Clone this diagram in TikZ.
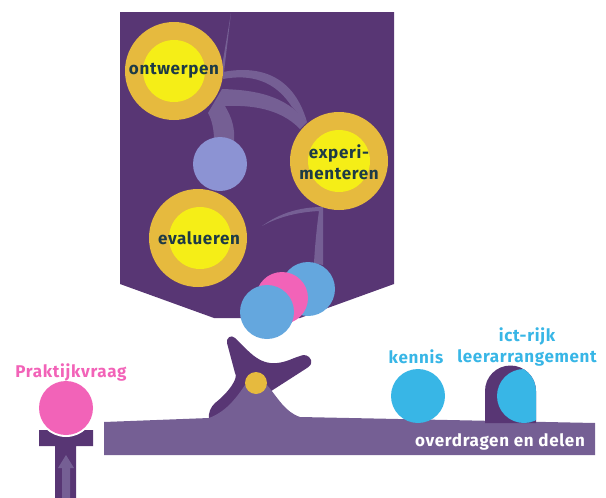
\documentclass[tikz,border=0pt]{standalone}
\usepackage{fontspec}
\setmainfont[LetterSpace=4]{Fira Sans}
\usepackage{xcolor}
\usepackage{tikz}
\usetikzlibrary{positioning, calc}
\definecolor{paars}{HTML}{583674}
\definecolor{lichtpaars}{HTML}{755F94}
\definecolor{goud}{HTML}{E6BA3E}
\definecolor{geel}{HTML}{F5EE17}
\definecolor{inkt}{HTML}{1D3A46}
\definecolor{roze}{HTML}{F263B8}
\definecolor{cyaan}{HTML}{38B6E6}
\definecolor{hemel}{HTML}{64A7DE}
\definecolor{lavendel}{HTML}{8C93D3}

\begin{document}
\begin{tikzpicture}[x=1pt,y=-1pt,
	bol/.style={circle,inner sep=0,minimum size=#1},
	ring/.style={bol=98,fill=goud},
	kern/.style={bol=62,fill=geel},
	woord/.style={font=\fontsize{17}{21}\selectfont\bfseries,text=inkt,align=center,inner sep=0},
	kop/.style={font=\fontsize{17}{21}\selectfont\bfseries,align=center,inner sep=0}]
			\useasboundingbox (0,0) rectangle (606,498);
			% banner with the cycle
			\fill[paars] (120,12) -- (394,12) -- (394,284) -- (300,318) -- (214,318) -- (120,284) -- cycle;
			% bands between the circles
			\fill[lichtpaars] (231,13) -- (224,72) -- (221,72) -- cycle;
			\fill[lichtpaars] (223,72) .. controls (265,64) and (295,80) .. (307,122) -- (292,107) .. controls (275,80) and (250,74) .. (223,79) -- cycle;
			\fill[lichtpaars] (222,89) .. controls (255,90) and (285,95) .. (307,122) -- (300,129) .. controls (280,108) and (250,105) .. (225,106) .. controls (232,118) and (235,128) .. (234,141) -- (214,140) .. controls (214,130) and (212,120) .. (208,113) -- cycle;
			\fill[lichtpaars] (262,226) .. controls (280,213) and (300,207) .. (323,207) -- (323,265) -- (314,263) .. controls (315,245) and (317,225) .. (319,211) .. controls (300,212) and (280,216) .. (262,226) -- cycle;
			% circles of the cycle
			\node[ring] (ontwerpen) at (174,71) {};
			\node[kern] (ontwerpenkern) at (ontwerpen) {};
			\node[woord] (ontwerpentekst) at (ontwerpen) {ontwerpen};
			\node[ring] (experimenteren) at (339,161) {};
			\node[kern] (experimenterenkern) at (experimenteren) {};
			\node[woord] (experimenterentekst) at (339,162) {experi-\\menteren};
			\node[ring] (evalueren) at (198,238) {};
			\node[kern] (evaluerenkern) at (200,238) {};
			\node[woord] (evaluerentekst) at (199,238) {evalueren};
			\node[bol=54,fill=lavendel] (midden) at (220,164) {};
			% falling circles
			\node[bol=54,fill=hemel] (bolachter) at (308,289) {};
			\node[bol=52,fill=roze] (bolroze) at (282,298) {};
			\node[bol=54,fill=hemel] (bolvoor) at (267,312) {};
			% tool on the platform
			\fill[paars] (209,420) .. controls (208,412) and (211,407) .. (215,403) .. controls (228,393) and (239,378) .. (235,373) -- (227,343) .. controls (226,338) and (231,334) .. (235,338) .. controls (248,350) and (258,365) .. (277,363) .. controls (287,362) and (293,358) .. (300,356) .. controls (304,354) and (309,355) .. (311,360) .. controls (312,364) and (310,366) .. (307,368) -- (265,395) -- (240,420) -- cycle;
			\fill[lichtpaars] (104,422) -- (209,418) .. controls (225,412) and (235,400) .. (245,385) -- (267,385) .. controls (278,398) and (285,412) .. (300,417) -- (595,423) -- (595,455) -- (104,455) -- cycle;
			\node[bol=22,fill=goud] (knop) at (256,383) {};
			\node[font=\fontsize{17}{21}\selectfont\bfseries,text=white,inner sep=0] (delen) at (500,442) {overdragen en delen};
			% question on the left
			\fill[paars] (39,430) -- (93,430) -- (93,446) -- (76,446) -- (76,498) -- (55,498) -- (55,446) -- (39,446) -- cycle;
			\node[bol=58,fill=white] (rozerand) at (66,408) {};
			\node[bol=54,fill=roze] (vraag) at (66,408) {};
			\fill[lichtpaars] (66,455) -- (74,468) -- (70,468) -- (70,498) -- (62,498) -- (62,468) -- (58,468) -- cycle;
			\node[kop,text=roze] (vraagtekst) at (71,372) {Praktijkvraag};
			% knowledge and arrangement
			\node[bol=54,fill=cyaan] (kennis) at (418,396) {};
			\node[kop,text=cyaan,above=5pt of kennis,xshift=-2pt] (kennistekst) {kennis};
			\fill[paars] (485,423) -- (485,391) arc[start angle=180,end angle=360,radius=25.5] -- (536,423) -- cycle;
			\begin{scope}
			\clip (485,423) -- (485,391) arc[start angle=180,end angle=360,radius=25.5] -- (536,423) -- cycle;
			\node[bol=54,fill=cyaan] (arrangement) at (524,396) {};
			\end{scope}
			\node[kop,text=cyaan] (arrangementtekst) at (527,347) {ict-rijk\\leerarrangement};
\end{tikzpicture}
\end{document}
